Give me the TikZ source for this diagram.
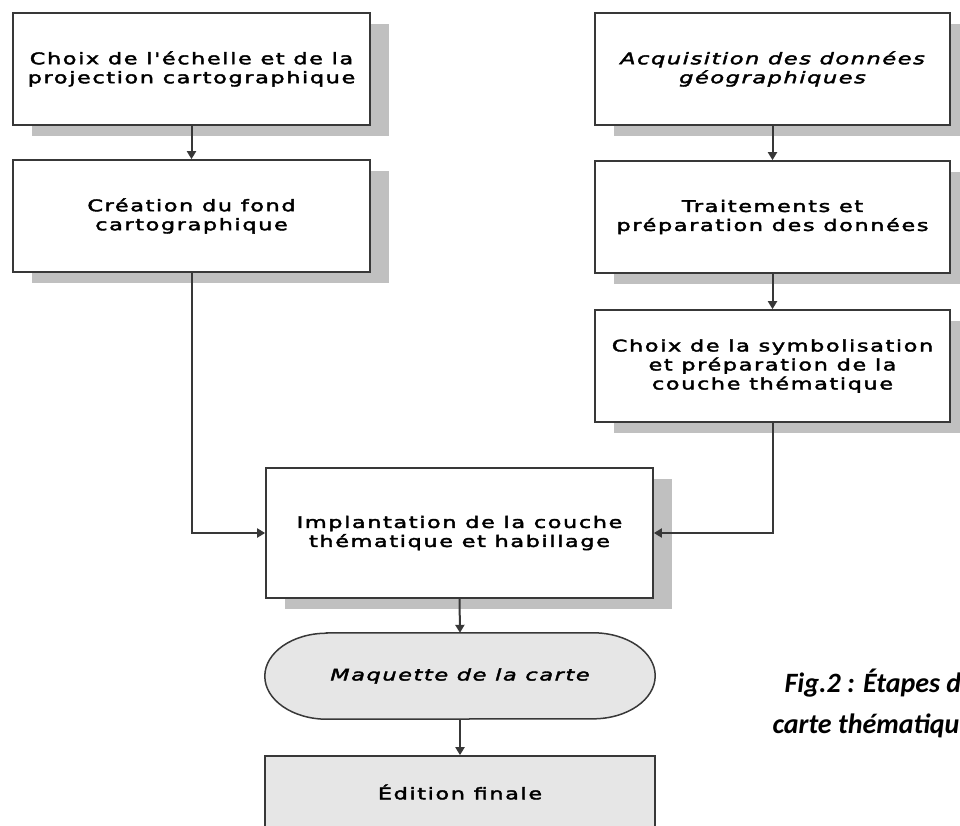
\documentclass[tikz,border=0pt]{standalone}
\usepackage{fontspec}
\usetikzlibrary{arrows.meta,shadows,backgrounds,calc}
\newfontfamily\boxfont[LetterSpace=10,FakeStretch=1.4,FakeBold=2.5]{DejaVu Sans}
\newfontfamily\capfont{Carlito}
\definecolor{linec}{HTML}{383838}
\definecolor{shadowc}{HTML}{C0C0C0}
\definecolor{lightfill}{HTML}{E6E6E6}
\tikzset{
  boxtext/.style={font=\boxfont\fontsize{16}{19}\selectfont, align=center, text=black},
  flowbox/.style={boxtext, draw=linec, line width=1.7pt, fill=white, inner sep=0pt,
    drop shadow={shadow xshift=19pt, shadow yshift=-11pt, fill=shadowc, opacity=1}},
  plainbox/.style={boxtext, draw=linec, line width=1.7pt, fill=lightfill, inner sep=0pt},
  conn/.style={draw=linec, line width=2pt, -{Triangle[length=8pt,width=9pt]}},
  captext/.style={font=\capfont\bfseries\itshape\fontsize{28}{34}\selectfont, anchor=base west}
}
\begin{document}
\begin{tikzpicture}[x=1pt,y=-1pt]
\useasboundingbox (0,0) rectangle (960,825);
\clip (0,0) rectangle (960,825);
% left column
\node[flowbox, minimum width=357pt, minimum height=112pt] (b1) at (191.5,69) {Choix de l'échelle et de la\\projection cartographique};
\node[flowbox, minimum width=357pt, minimum height=112pt] (b2) at (191.5,216) {Création du fond\\cartographique};
% right column
\node[flowbox, minimum width=355pt, minimum height=112pt] (bA) at (772.5,69) {\itshape Acquisition des données\\\itshape géographiques};
\node[flowbox, minimum width=355pt, minimum height=112pt] (bB) at (772.5,217) {Traitements et\\préparation des données};
\node[flowbox, minimum width=355pt, minimum height=112pt] (bC) at (772.5,366) {Choix de la symbolisation\\et préparation de la\\couche thématique};
% centre
\node[flowbox, minimum width=387pt, minimum height=130pt] (bD) at (459.5,533) {Implantation de la couche\\thématique et habillage};
\node[boxtext, minimum width=390pt, minimum height=86pt, inner sep=0pt] (st) at (460,676) {\itshape Maquette de la carte};
\begin{pgfonlayer}{background}
\draw[draw=linec, line width=1.5pt, fill=lightfill]
  ([xshift=62pt]st.north west) -- ([xshift=-62pt]st.north east)
  arc[start angle=90, end angle=-90, x radius=62pt, y radius=43pt]
  -- ([xshift=62pt]st.south west)
  arc[start angle=270, end angle=90, x radius=62pt, y radius=43pt] -- cycle;
\end{pgfonlayer}
\node[plainbox, minimum width=390pt, minimum height=72pt] (bE) at (460,792) {Édition finale};
% connectors
\draw[conn] (b1.south) -- (b2.north);
\draw[conn] (bA.south) -- (bB.north);
\draw[conn] (bB.south) -- (bC.north);
\draw[conn] (b2.south) |- (bD.west);
\draw[conn] (bC.south) |- (bD.east);
\draw[conn] (bD.south) -- (st.north);
\draw[conn] (st.south) -- (bE.north);
% caption (cut by the right edge, as in the reference)
\node[captext] (cap1) at (781,692) {Fig.2 : Étapes d};
\node[captext] (cap2) at (769,733) {carte thématiqu};
\end{tikzpicture}
\end{document}
